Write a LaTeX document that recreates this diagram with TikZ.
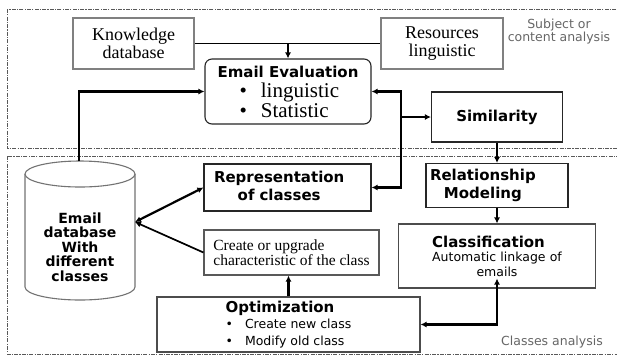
\documentclass[tikz,border=0pt]{standalone}
\usepackage{fontspec}
\setmainfont{Liberation Serif}
\setsansfont{DejaVu Sans}
\usepackage{tikz}
\usetikzlibrary{shapes,arrows,positioning,calc,arrows.meta}

\newcommand\boxtitle{\sffamily\bfseries\fontsize{15}{18}\selectfont}
\newcommand\boxsans{\sffamily\fontsize{12.5}{16.5}\selectfont}
\newcommand\bigserif{\rmfamily\fontsize{18}{18}\selectfont}
\newcommand\evalserif{\rmfamily\fontsize{21}{20}\selectfont}
\newcommand\smallserif{\rmfamily\fontsize{15.5}{15}\selectfont}
\newcommand\notefont{\sffamily\fontsize{12.5}{13}\selectfont}
\newcommand\dbfont{\sffamily\bfseries\fontsize{14}{14.5}\selectfont}

\tikzset{
    box/.style={draw=black!85, line width=1.1pt, inner sep=4pt, fill=white},
    greybox/.style={box, draw=black!50},
    link/.style={line width=2.2pt},
    thinlink/.style={line width=1.3pt},
    region/.style={draw=black!65, line width=0.8pt, dash pattern=on 4pt off 1.2pt on 1.2pt off 1.2pt},
    note/.style={text=black!60, font=\notefont, align=center},
}

\begin{document}
\begin{tikzpicture}[x=1pt, y=1pt, >={Latex[length=6pt,width=6pt]}]
    \useasboundingbox (0,0) rectangle (617,-357);

    % the two analysis areas
    \draw[region] (7,-9) rectangle (640,-148);
    \draw[region] (7,-156) rectangle (640,-354);
    \node[note] (subj) at (559,-31.5) {Subject or\\content analysis};
    \node[note] (clsan) at (552,-342) {Classes analysis};

    % subject / content analysis
    \node[greybox, minimum width=121, minimum height=51, align=center, font=\bigserif] (know) at (133.5,-43.5) {Knowledge\\database};
    \node[greybox, minimum width=122, minimum height=51, align=center, font=\bigserif] (res) at (442,-43.5) {Resources\\linguistic};
    \node[box, rounded corners=7pt, minimum width=166, minimum height=65, align=left, font=\evalserif] (eval) at (288,-91.5)
        {{\boxtitle Email Evaluation}\\\hspace*{22pt}\textbullet\hspace{14pt}linguistic\\\hspace*{22pt}\textbullet\hspace{14pt}Statistic};
    \node[box, minimum width=131, minimum height=50, font=\boxtitle] (sim) at (497,-117) {Similarity};

    % classes analysis
    \node[box, minimum width=167, minimum height=47, text width=159, align=left, font=\boxtitle] (rep) at (287.5,-187.5)
        {\begin{tabular}{c}Representation\\of classes\end{tabular}};
    \node[box, minimum width=142, minimum height=41, text width=134, align=left, font=\boxtitle] (rel) at (497,-185.5)
        {\begin{tabular}{@{}c@{}}Relationship\\Modeling\end{tabular}};
    \node[box, draw=black!70, minimum width=197, minimum height=64, text width=189, align=center, font=\boxsans] (cls) at (497,-256)
        {\begin{tabular}{@{}l@{}}{\boxtitle Classification}\\[-2pt]Automatic linkage of\end{tabular}\\[-1pt]emails};
    \node[greybox, draw=black!65, minimum width=175, minimum height=45, align=left, font=\smallserif] (crt) at (291.5,-252.5)
        {Create or upgrade\\characteristic of the class};
    \node[box, draw=black!70, minimum width=263, minimum height=49, align=left, font=\boxsans] (opt) at (288.5,-324.5)
        {{\boxtitle Optimization}\\\textbullet\hspace{12pt}Create new class\\\textbullet\hspace{12pt}Modify old class};

    % email database
    \coordinate (dbtop) at (79,-161);
    \coordinate (dbport) at (135,-222);
    \draw[draw=black!55, line width=1.1pt, fill=white] (25,-174) -- (25,-287) arc (180:360:55 and 13) -- (135,-174);
    \draw[draw=black!55, line width=1.1pt, fill=white] (80,-174) ellipse (55 and 13);
    \node[font=\dbfont, align=center] (db) at (80,-247) {Email\\database\\With\\different\\classes};

    % connectors
    \draw[thinlink] (know.east) -- (res.west);
    \draw[thinlink,->] (eval.north |- know.east) -- (eval.north);
    \draw[link,->] (dbtop) |- (eval.west);
    \coordinate (bus) at (401,-117);
    \draw[link,<->] (eval.east) -| (bus) |- (rep.east);
    \draw[link,->] (bus) -- (sim.west);
    \draw[link,->] (sim.south) -- (rel.north);
    \draw[link,->] (rel.south) -- (cls.north);
    \draw[link,<->] (opt.east) -| ([yshift=10pt]cls.south);
    \draw[link,->] (opt.north) -- (opt.north |- crt.south);
    \draw[link,<->] (dbport) -- (rep.west);
    \draw[line width=1.7pt,->] (crt.west) -- (dbport);
\end{tikzpicture}
\end{document}
